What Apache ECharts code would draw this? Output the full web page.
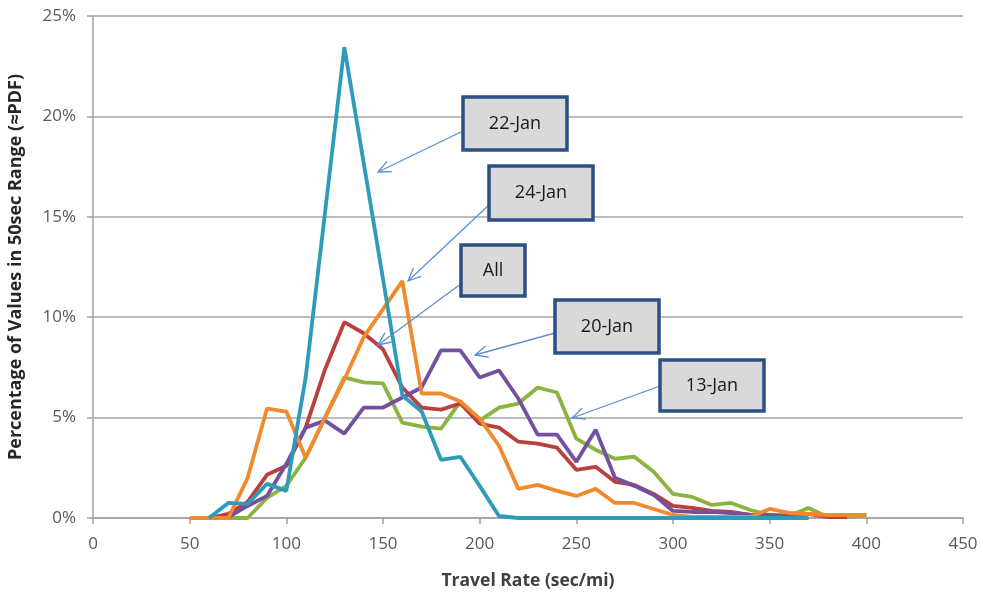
<!DOCTYPE html>
<html>
<head>
<meta charset="utf-8">
<script src="https://cdn.jsdelivr.net/npm/echarts@6/dist/echarts.min.js"></script>
<style>
  html, body { margin: 0; padding: 0; background: #fff; }
  #chart { width: 983px; height: 593px; }
</style>
</head>
<body>
<div id="chart"></div>
<script>
// travel rate bins (sec/mi)
const rates = [50, 60, 70, 80, 90, 100, 110, 120, 130, 140, 150, 160, 170, 180, 190, 200,
  210, 220, 230, 240, 250, 260, 270, 280, 290, 300, 310, 320, 330, 340, 350, 360, 370, 380, 390, 400]

// percentage of values per bin, one array per day (null = no point)
const jan13 = [null, null, 0, 0, 1.0, 1.6, 3.0, 5.0, 7.0, 6.75, 6.7, 4.75, 4.55, 4.45, 5.8, 4.85,
  5.5, 5.7, 6.5, 6.25, 3.95, 3.4, 2.95, 3.05, 2.3, 1.2, 1.05, 0.65, 0.75, 0.4, 0.15, 0.1, 0.5, 0.05, 0.05, 0.15]
const jan20 = [null, null, 0.05, 0.6, 1.1, 2.7, 4.5, 4.85, 4.2, 5.5, 5.5, 6.0, 6.5, 8.35, 8.35, 7.0,
  7.35, 5.95, 4.15, 4.15, 2.8, 4.4, 2.0, 1.6, 1.15, 0.35, 0.3, 0.3, 0.25, 0.15, 0.1, 0.05, 0, null, null, null]
const all = [null, 0, 0.2, 0.8, 2.15, 2.6, 4.5, 7.4, 9.75, 9.2, 8.4, 6.5, 5.5, 5.4, 5.7, 4.7,
  4.5, 3.8, 3.7, 3.5, 2.4, 2.55, 1.8, 1.65, 1.2, 0.6, 0.5, 0.35, 0.3, 0.15, 0.15, 0.1, 0.2, 0.05, 0.05, null]
const jan24 = [0, 0, 0, 2.0, 5.45, 5.3, 3.0, 5.0, 6.9, 9.0, 10.4, 11.8, 6.2, 6.2, 5.8, 4.95,
  3.6, 1.45, 1.65, 1.35, 1.1, 1.45, 0.75, 0.75, 0.45, 0.15, 0.05, 0.05, 0.05, 0.05, 0.45, 0.25, 0.2, 0.15, 0.15, 0.15]
const jan22 = [null, 0, 0.75, 0.7, 1.7, 1.35, 7.0, 15.2, 23.45, 17.7, 11.9, 6.1, 5.3, 2.9, 3.05, 1.6,
  0.1, 0, 0, 0, 0, 0, 0, 0, 0, 0, 0, 0, 0, 0, 0, 0, 0, null, null, null]

const xTicks = [0, 50, 100, 150, 200, 250, 300, 350, 400, 450]
const yTicks = [0, 5, 10, 15, 20, 25]

function pairs(vals) {
  const out = []
  for (let i = 0; i < rates.length; ++i) {
    if (vals[i] !== null) out.push([rates[i], vals[i]])
  }
  return out
}

const chart = echarts.init(document.getElementById('chart'))
const font = '"Open Sans", Lato, sans-serif'

function line(name, vals, color) {
  return {
    name: name,
    type: 'line',
    data: pairs(vals),
    symbol: 'none',
    lineStyle: { color: color, width: 3.8 },
    itemStyle: { color: color },
    animation: false
  }
}

chart.setOption({
  backgroundColor: '#ffffff',
  grid: { left: 93, right: 20, top: 16, bottom: 75, containLabel: false, outerBoundsMode: 'none' },
  xAxis: {
    type: 'value',
    min: xTicks[0],
    max: xTicks[xTicks.length - 1],
    interval: 50,
    name: 'Travel Rate (sec/mi)',
    nameLocation: 'middle',
    nameGap: 54,
    nameTextStyle: { fontFamily: font, fontWeight: 'bold', fontSize: 17.5, color: '#404040' },
    axisLine: { lineStyle: { color: '#a0a0a0', width: 1.5 } },
    axisTick: { show: true, length: 6, lineStyle: { color: '#a0a0a0', width: 1.5 } },
    axisLabel: { fontFamily: font, fontSize: 17, color: '#595959', margin: 18 },
    splitLine: { show: false }
  },
  yAxis: {
    type: 'value',
    min: yTicks[0],
    max: yTicks[yTicks.length - 1],
    interval: 5,
    name: 'Percentage of Values in 50sec Range (\u2248PDF)',
    nameLocation: 'middle',
    nameGap: 68,
    nameTextStyle: { fontFamily: font, fontWeight: 'bold', fontSize: 18, color: '#262626' },
    axisLine: { show: true, lineStyle: { color: '#a0a0a0', width: 1.5 } },
    axisTick: { show: true, length: 6, inside: false, lineStyle: { color: '#a0a0a0', width: 1.5 } },
    axisLabel: { fontFamily: font, fontSize: 17, color: '#595959', margin: 17, formatter: '{value}%' },
    splitLine: { show: true, lineStyle: { color: '#a6a6a6', width: 1.5 } }
  },
  series: [
    line('13-Jan', jan13, '#8ab43f'),
    line('All', all, '#b9403d'),
    line('20-Jan', jan20, '#7450a0'),
    line('24-Jan', jan24, '#f08a2c'),
    line('22-Jan', jan22, '#2e9cb8')
  ]
})

// callout boxes with arrows (layout in pixels)
const callouts = [
  { text: '22-Jan', box: [463, 97, 104, 53], from: [463, 131], tip: [378, 172] },
  { text: '24-Jan', box: [489, 166, 104, 54], from: [490, 204], tip: [408, 281] },
  { text: 'All', box: [461, 245, 64, 51], from: [462, 283], tip: [378, 345] },
  { text: '20-Jan', box: [555, 300, 104, 53], from: [555, 333], tip: [475, 355] },
  { text: '13-Jan', box: [660, 360, 104, 51], from: [660, 386], tip: [572, 418] }
]

const graphics = []
callouts.forEach(c => {
  const [fx, fy] = c.from
  const [tx, ty] = c.tip
  const ang = Math.atan2(fy - ty, fx - tx)
  const len = 14, spread = 0.42
  const arrowStyle = { stroke: '#5b8fd0', lineWidth: 1.3 }
  graphics.push({ type: 'line', shape: { x1: fx, y1: fy, x2: tx, y2: ty }, style: arrowStyle, z: 10 })
  graphics.push({
    type: 'polyline',
    shape: { points: [
      [tx + len * Math.cos(ang + spread), ty + len * Math.sin(ang + spread)],
      [tx, ty],
      [tx + len * Math.cos(ang - spread), ty + len * Math.sin(ang - spread)]
    ] },
    style: Object.assign({ fill: null }, arrowStyle),
    z: 10
  })
  const [bx, by, bw, bh] = c.box
  graphics.push({
    type: 'rect',
    shape: { x: bx, y: by, width: bw, height: bh },
    style: { fill: '#d9d9d9', stroke: '#2c5083', lineWidth: 3.5 },
    z: 11
  })
  graphics.push({
    type: 'text',
    x: bx + bw / 2,
    y: by + bh / 2,
    style: { text: c.text, fontFamily: font, fontSize: 18, fill: '#1a1a1a', align: 'center', verticalAlign: 'middle' },
    z: 12
  })
})
chart.setOption({ graphic: graphics })
</script>
</body>
</html>
